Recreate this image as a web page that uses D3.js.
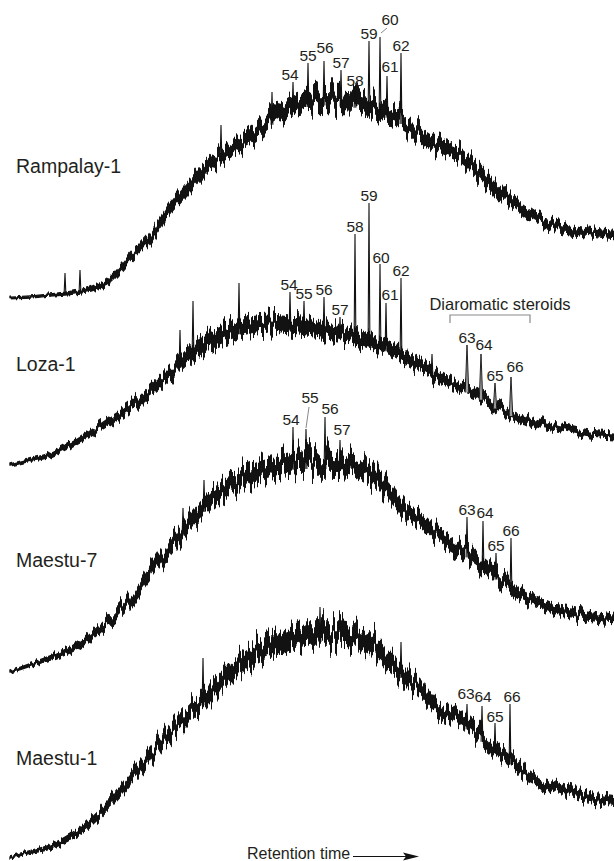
<!DOCTYPE html>
<html>
<head>
<meta charset="utf-8">
<script src="https://cdn.jsdelivr.net/npm/d3@7"></script>
<style>
  html, body { margin: 0; padding: 0; background: #fff; }
  svg { display: block; }
  text { font-family: "Liberation Sans", Arial, sans-serif; fill: #231f20; }
</style>
</head>
<body>
<svg id="chart" width="614" height="861"></svg>
<script>
// Retention index (scans) at which the unresolved hump of each trace is sampled
const retention = [0, 20, 40, 60, 80, 100, 120, 140, 160, 180, 200, 220, 240, 260, 280, 297, 314, 330,
                   347, 364, 380, 397, 414, 430, 447, 464, 480, 497, 514, 530, 547, 564, 580, 604];

// Hump level (response) and noise half-amplitude, one array per sample
const rampalayLevel = [2, 3, 5, 7, 11, 20, 42, 63, 92, 115, 136, 150, 163, 179, 193, 199, 201, 200,
                       198, 192, 187, 178, 163, 154, 147, 133, 117, 103, 89, 79, 74, 70, 67, 64];
const rampalayNoise = [1, 1.5, 1.5, 2, 3, 4, 5, 6, 7, 8, 9, 9, 10, 10, 11, 12, 13, 13,
                       12, 12, 11, 10, 10, 9, 9, 9, 9, 8, 7, 6, 6, 5, 5, 5];

const lozaLevel = [5, 10, 15, 25, 37, 50, 63, 80, 97, 117, 130, 138, 145, 147, 145, 143, 140, 137,
                   133, 127, 122, 112, 102, 92, 84, 78, 67, 58, 52, 47, 43, 39, 36, 34];
const lozaNoise = [1.5, 2, 3, 3.5, 4, 5, 6, 7, 8, 10, 11, 11, 11, 11, 11, 11, 10, 10,
                   10, 9, 9, 8, 8, 7, 6, 6, 6, 5, 5, 5, 4, 4, 4, 4];

const maestu7Level = [3, 10, 17, 25, 38, 55, 75, 101, 128, 153, 175, 190, 200, 207, 212, 213, 213, 212,
                      208, 198, 182, 163, 152, 138, 128, 118, 105, 90, 78, 72, 65, 62, 59, 56];
const maestu7Noise = [1.5, 2, 3, 4, 5, 6, 7, 8, 9, 10, 11, 12, 13, 13, 14, 14, 14, 13,
                      12, 12, 11, 10, 9, 9, 9, 9, 9, 8, 7, 6, 6, 6, 6, 5];

const maestu1Level = [3, 8, 13, 23, 37, 57, 80, 103, 127, 147, 167, 187, 203, 213, 220, 225, 225, 225,
                      222, 214, 198, 182, 167, 150, 143, 130, 115, 102, 87, 78, 72, 67, 63, 59];
const maestu1Noise = [1.5, 2, 3, 4, 5, 6, 7, 8, 9, 10, 11, 12, 13, 13, 14, 14, 14, 14,
                      13, 13, 12, 11, 10, 9, 9, 9, 8, 8, 7, 6, 6, 6, 6, 6];

// Resolved peaks: retention index, apex response, compound number
const rampalayPeaks = [
  { rt: 55, h: 27 }, { rt: 70, h: 30 }, { rt: 211, h: 175 }, { rt: 262, h: 208 },
  { rt: 283, h: 218, label: "54" }, { rt: 298, h: 237, label: "55" }, { rt: 314, h: 239, label: "56" },
  { rt: 331, h: 230, label: "57" }, { rt: 345, h: 212, label: "58" }, { rt: 359, h: 259, label: "59" },
  { rt: 370, h: 263, label: "60" }, { rt: 377, h: 224, label: "61" }, { rt: 391, h: 247, label: "62" }
];
const lozaPeaks = [
  { rt: 170, h: 140 }, { rt: 183, h: 169 }, { rt: 229, h: 187 }, { rt: 422, h: 116 },
  { rt: 280, h: 178, label: "54" }, { rt: 294, h: 169, label: "55" }, { rt: 314, h: 173, label: "56" },
  { rt: 330, h: 153, label: "57" }, { rt: 345, h: 236, label: "58" }, { rt: 359, h: 267, label: "59" },
  { rt: 370, h: 206, label: "60" }, { rt: 376, h: 167, label: "61" }, { rt: 391, h: 192, label: "62" },
  { rt: 457, h: 125, label: "63", wide: true }, { rt: 471, h: 116, label: "64", wide: true },
  { rt: 485, h: 87, label: "65", wide: true }, { rt: 501, h: 93, label: "66", wide: true }
];
const maestu7Peaks = [
  { rt: 173, h: 167 }, { rt: 194, h: 195 },
  { rt: 283, h: 248, label: "54" }, { rt: 296, h: 246, label: "55" }, { rt: 315, h: 258, label: "56" },
  { rt: 330, h: 235, label: "57" },
  { rt: 457, h: 158, label: "63" }, { rt: 473, h: 154, label: "64" },
  { rt: 486, h: 122, label: "65" }, { rt: 501, h: 137, label: "66" }
];
const maestu1Peaks = [
  { rt: 193, h: 202 }, { rt: 310, h: 253 }, { rt: 391, h: 218 },
  { rt: 457, h: 156, label: "63" }, { rt: 472, h: 154, label: "64" },
  { rt: 485, h: 137, label: "65" }, { rt: 500, h: 156, label: "66" }
];

const sampleNames = ["Rampalay-1", "Loza-1", "Maestu-7", "Maestu-1"];

// ---- layout ----
const W = 614, H = 861;
const traceBase = [300, 470, 675, 860];      // pixel row of zero response for each trace
const nameRow = [173, 371, 567, 765];        // baseline of each sample name
const labelNudge = {
  "Rampalay-1": { "54": [-3, -2], "56": [1, -8], "60": [10, -12, [1, -4, 7, -9]], "61": [3, -4] },
  "Loza-1": { "54": [-1, -2], "60": [1, -1], "61": [4, -3], "64": [3, -4], "66": [4, -5] },
  "Maestu-7": { "54": [-2, -2], "55": [4, -26, [0, -1, 3, -22]], "56": [5, -3], "57": [2, -5], "64": [2, -3] },
  "Maestu-1": { "63": [-1, -5], "64": [1, -4], "65": [0, -1], "66": [2, -2] }
};

const svg = d3.select("#chart");
const defs = svg.append("defs");
const x = d3.scaleLinear().domain([0, 604]).range([10, 614]);

// Ragged detector-noise texture: each pixel column of the band is shifted
// vertically; the shift amplitude follows the noise level of the segment.
const jagFilters = new Map();
function jagFilter(scale) {
  const key = Math.max(1, Math.round(scale));
  if (jagFilters.has(key)) return jagFilters.get(key);
  const id = "jag" + key;
  const f = defs.append("filter")
    .attr("id", id)
    .attr("filterUnits", "userSpaceOnUse")
    .attr("x", 0).attr("y", 0).attr("width", W).attr("height", H)
    .attr("color-interpolation-filters", "sRGB");
  f.append("feTurbulence")
    .attr("type", "fractalNoise")
    .attr("baseFrequency", "0.34 0.006")
    .attr("numOctaves", 2)
    .attr("seed", 7)
    .attr("result", "tex");
  f.append("feColorMatrix")
    .attr("in", "tex")
    .attr("type", "matrix")
    .attr("values", "0 0 0 0 0.5  0 1 0 0 0  0 0 1 0 0  0 0 0 0 1")
    .attr("result", "shift");
  f.append("feDisplacementMap")
    .attr("in", "SourceGraphic")
    .attr("in2", "shift")
    .attr("scale", key)
    .attr("xChannelSelector", "R")
    .attr("yChannelSelector", "G");
  jagFilters.set(key, id);
  return id;
}

const traces = [
  { name: sampleNames[0], level: rampalayLevel, noise: rampalayNoise, peaks: rampalayPeaks },
  { name: sampleNames[1], level: lozaLevel, noise: lozaNoise, peaks: lozaPeaks },
  { name: sampleNames[2], level: maestu7Level, noise: maestu7Noise, peaks: maestu7Peaks },
  { name: sampleNames[3], level: maestu1Level, noise: maestu1Noise, peaks: maestu1Peaks }
];

function at(arr, rt) {
  const i = d3.bisectRight(retention, rt) - 1;
  if (i < 0) return arr[0];
  if (i >= retention.length - 1) return arr[arr.length - 1];
  const t = (rt - retention[i]) / (retention[i + 1] - retention[i]);
  return arr[i] + (arr[i + 1] - arr[i]) * t;
}

traces.forEach((tr, k) => {
  const y = d3.scaleLinear().domain([0, 300]).range([traceBase[k], traceBase[k] - 300]);
  const g = svg.append("g").attr("class", "trace");
  const core = 0.72;   // share of the noise amplitude drawn as the solid core
  const pts = retention.map((r, i) => ({
    r, lo: tr.level[i] - tr.noise[i] * core, hi: tr.level[i] + tr.noise[i] * core
  }));

  const band = d3.area()
    .x(d => x(d.r))
    .y0(d => y(d.lo))
    .y1(d => y(d.hi))
    .curve(d3.curveMonotoneX);
  const bandPath = band(pts);

  // split the band into runs of equal noise texture strength
  const runs = [];
  for (let i = 0; i < retention.length - 1; i++) {
    const n = (tr.noise[i] + tr.noise[i + 1]) / 2;
    const s = Math.max(1, Math.round(n * 3.6));
    const last = runs[runs.length - 1];
    if (last && last.s === s) last.to = retention[i + 1];
    else runs.push({ s, from: retention[i], to: retention[i + 1] });
  }
  runs.forEach((run, j) => {
    const cid = `clip-${k}-${j}`;
    const x0 = j === 0 ? 0 : x(run.from);
    const x1 = j === runs.length - 1 ? W : x(run.to) + 0.5;
    defs.append("clipPath").attr("id", cid)
      .append("rect").attr("x", x0).attr("y", 0).attr("width", x1 - x0).attr("height", H);
    g.append("g").attr("clip-path", `url(#${cid})`)
      .append("path")
      .attr("d", bandPath)
      .attr("fill", "#121212")
      .attr("stroke", "#121212")
      .attr("stroke-width", 1.4)
      .attr("stroke-linejoin", "round")
      .attr("filter", `url(#${jagFilter(run.s)})`);
  });

  // resolved peaks
  tr.peaks.forEach(p => {
    const foot = at(tr.level, p.rt) - at(tr.noise, p.rt) * 0.5;
    const w = p.wide ? 1.8 : 0.9;
    const px = x(p.rt);
    g.append("path")
      .attr("d", `M${px - w},${y(foot)}L${px},${y(p.h)}L${px + w},${y(foot)}`)
      .attr("fill", p.wide ? "#9a9a9a" : "none")
      .attr("stroke", "#111")
      .attr("stroke-width", p.wide ? 0.9 : 1.1)
      .attr("stroke-linejoin", "miter");

    if (p.label) {
      const n = (labelNudge[tr.name] || {})[p.label] || [0, -2];
      const ty = y(p.h);
      g.append("text")
        .attr("x", px + n[0])
        .attr("y", ty + n[1])
        .attr("text-anchor", "middle")
        .attr("font-size", 15.5)
        .text(p.label);
      if (n[2]) {
        const L = n[2];
        g.append("line")
          .attr("x1", px + L[0]).attr("y1", ty + L[1])
          .attr("x2", px + L[2]).attr("y2", ty + L[3])
          .attr("stroke", "#555").attr("stroke-width", 0.7);
      }
    }
  });

  svg.append("text")
    .attr("x", 16)
    .attr("y", nameRow[k])
    .attr("font-size", 19.5)
    .text(tr.name);
});

// bracket over the diaromatic steroid peaks of Loza-1
const yLoza = d3.scaleLinear().domain([0, 300]).range([traceBase[1], traceBase[1] - 300]);
const brTop = yLoza(155), brFoot = yLoza(147);
svg.append("path")
  .attr("d", `M${x(440)},${brFoot}V${brTop}H${x(520)}V${brFoot}`)
  .attr("fill", "none").attr("stroke", "#8a8a8a").attr("stroke-width", 1.2);
svg.append("text")
  .attr("x", x(490))
  .attr("y", yLoza(160))
  .attr("text-anchor", "middle")
  .attr("font-size", 16.5)
  .text("Diaromatic steroids");

// retention time axis note
svg.append("text")
  .attr("x", 247)
  .attr("y", 859)
  .attr("font-size", 16)
  .text("Retention time");
svg.append("line")
  .attr("x1", 353).attr("y1", 856.5).attr("x2", 408).attr("y2", 856.5)
  .attr("stroke", "#111").attr("stroke-width", 1.2);
svg.append("path")
  .attr("d", "M403,852.5L419,856.5L403,860.5L406,856.5Z")
  .attr("fill", "#111");
</script>
</body>
</html>
